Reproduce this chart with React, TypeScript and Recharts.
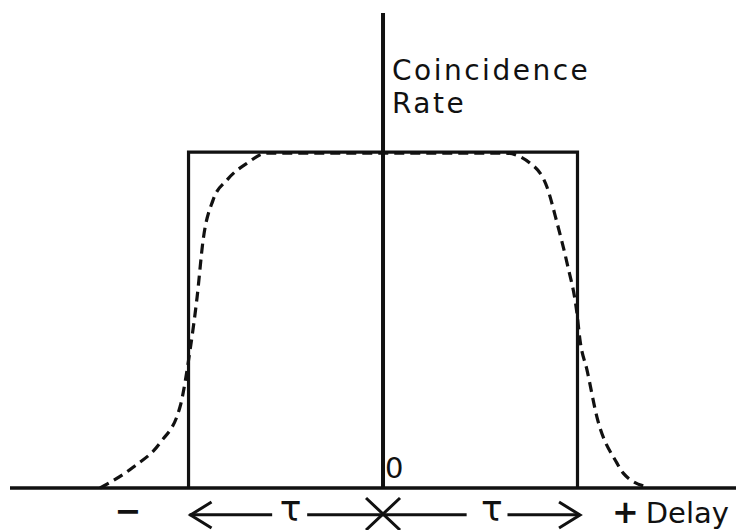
import React from "react";
import { Line, LineChart, ReferenceLine, XAxis, YAxis } from "recharts";

// delay in units of tau, rate normalised to the plateau
const windowPoints = [
  { x: -1, y: 0 },
  { x: -1, y: 1 },
  { x: 1, y: 1 },
  { x: 1, y: 0 },
];

const measuredPoints = [
  { x: -1.455, y: 0 },
  { x: -1.285, y: 0.062 },
  { x: -1.147, y: 0.134 },
  { x: -1.044, y: 0.241 },
  { x: -0.992, y: 0.411 },
  { x: -0.956, y: 0.568 },
  { x: -0.925, y: 0.738 },
  { x: -0.874, y: 0.857 },
  { x: -0.802, y: 0.917 },
  { x: -0.699, y: 0.967 },
  { x: -0.596, y: 0.997 },
  { x: 0.627, y: 0.997 },
  { x: 0.756, y: 0.967 },
  { x: 0.843, y: 0.896 },
  { x: 0.895, y: 0.789 },
  { x: 0.946, y: 0.67 },
  { x: 0.997, y: 0.521 },
  { x: 1.013, y: 0.44 },
  { x: 1.049, y: 0.351 },
  { x: 1.1, y: 0.211 },
  { x: 1.203, y: 0.074 },
  { x: 1.234, y: 0.045 },
  { x: 1.357, y: 0.003 },
];

const tickValues = [-1.31, -1, -0.475, 0, 0.56, 1.013, 1.177];
const tickKinds = ["text", "arrowLeft", "tau", "origin", "tau", "arrowRight", "textStart"];
const tickLabels = ["−", "", "τ", "0", "τ", "", "Delay"];

// shaft of the  <-- tau --x-- tau -->  marker, below the axis
const shaftY = -0.08;
const shaftSegments = [
  [-0.995, -0.57],
  [-0.39, 0.43],
  [0.64, 1.013],
];

const yLabel = ["Coincidence", "Rate"];

const font = "'DejaVu Sans', sans-serif";
const ink = "#111";

const AxisTick = (props: any) => {
  const { x, y, index } = props;
  const kind = tickKinds[index];
  const label = tickLabels[index];

  if (kind === "arrowLeft") {
    return (
      <path
        d={`M${x + 23},${y + 14} L${x + 2},${y + 27} L${x + 23},${y + 40}`}
        fill="none"
        stroke={ink}
        strokeWidth={3}
      />
    );
  }
  if (kind === "arrowRight") {
    return (
      <path
        d={`M${x - 21},${y + 14} L${x},${y + 27} L${x - 21},${y + 40}`}
        fill="none"
        stroke={ink}
        strokeWidth={3}
      />
    );
  }
  if (kind === "origin") {
    return (
      <g>
        <text x={x + 2} y={y - 10} fontFamily={font} fontSize={29} fill={ink}>
          {label}
        </text>
        <path
          d={`M${x - 17},${y + 10} L${x + 17},${y + 42} M${x + 17},${y + 10} L${x - 17},${y + 42}`}
          stroke={ink}
          strokeWidth={3}
        />
      </g>
    );
  }
  if (kind === "tau") {
    return (
      <text x={x} y={y + 33} textAnchor="middle" fontFamily={font} fontSize={36} fill={ink}>
        {label}
      </text>
    );
  }
  if (kind === "textStart") {
    return (
      <text x={x} y={y + 35} fontFamily={font} fontSize={29} fill={ink}>
        <tspan fontWeight="bold" fontSize={32}>+</tspan>
        <tspan dx={7}>{label}</tspan>
      </text>
    );
  }
  return (
    <text
      x={x}
      y={y + 34}
      textAnchor="middle"
      fontFamily={font}
      fontSize={32}
      fontWeight="bold"
      fill={ink}
    >
      {label}
    </text>
  );
};

const AxisTitle = (props: any) => {
  const { viewBox } = props;
  const x = viewBox.x + 9;
  const y = viewBox.y + 67;
  return (
    <text x={x} y={y} fontFamily={font} fontSize={28} letterSpacing={2.5} fill={ink}>
      <tspan x={x}>{yLabel[0]}</tspan>
      <tspan x={x} dy={33}>
        {yLabel[1]}
      </tspan>
    </text>
  );
};

export default function App() {
  return (
    <div style={{ position: "absolute", left: 0, top: 0, background: "#fff" }}>
      <LineChart
        width={736}
        height={530}
        margin={{ top: 13, right: 0, bottom: 12, left: 10 }}
      >
        <XAxis
          type="number"
          dataKey="x"
          domain={[-1.918, 1.815]}
          allowDataOverflow
          ticks={tickValues}
          interval={0}
          height={30}
          tickSize={0}
          tickMargin={0}
          tickLine={false}
          axisLine={{ stroke: ink, strokeWidth: 3.5 }}
          tick={<AxisTick />}
        />
        <YAxis type="number" dataKey="y" domain={[0, 1.414]} hide />
        <ReferenceLine
          x={0}
          stroke={ink}
          strokeWidth={4}
          label={<AxisTitle />}
        />
        {shaftSegments.map(([a, b], i) => (
          <ReferenceLine
            key={i}
            segment={[
              { x: a, y: shaftY },
              { x: b, y: shaftY },
            ]}
            ifOverflow="visible"
            stroke={ink}
            strokeWidth={3}
          />
        ))}
        <Line
          data={windowPoints}
          dataKey="y"
          type="linear"
          stroke={ink}
          strokeWidth={3.2}
          dot={false}
          isAnimationActive={false}
        />
        <Line
          data={measuredPoints}
          dataKey="y"
          type="monotone"
          stroke={ink}
          strokeWidth={3.2}
          strokeDasharray="10 6"
          dot={false}
          isAnimationActive={false}
        />
      </LineChart>
    </div>
  );
}
